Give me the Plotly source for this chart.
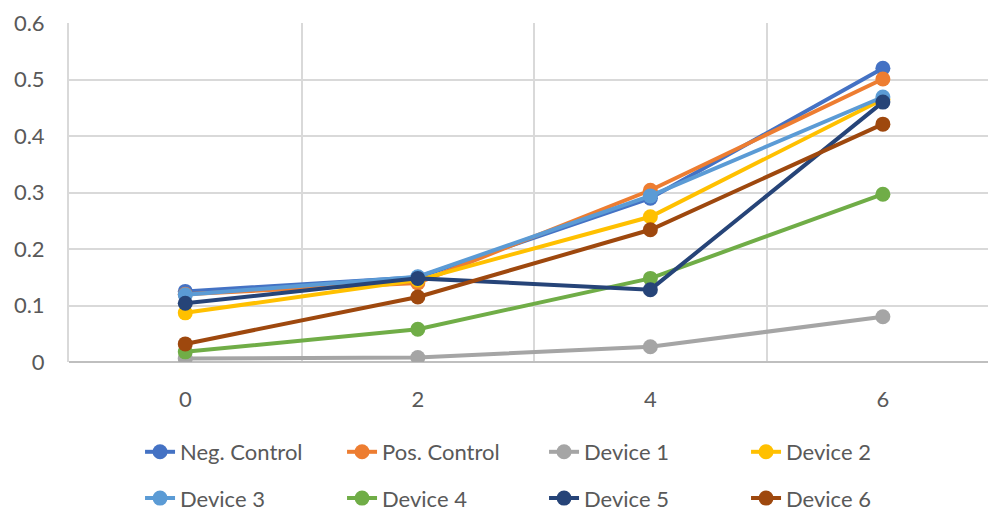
import plotly.graph_objects as go

# Time points (x) and measured values per series
time_points = [0, 2, 4, 6]
series_names = ["Neg. Control", "Pos. Control", "Device 1", "Device 2",
                "Device 3", "Device 4", "Device 5", "Device 6"]
neg_control = [0.125, 0.150, 0.290, 0.520]
pos_control = [0.120, 0.140, 0.304, 0.501]
device_1 = [0.006, 0.008, 0.027, 0.080]
device_2 = [0.087, 0.145, 0.257, 0.465]
device_3 = [0.119, 0.151, 0.294, 0.469]
device_4 = [0.018, 0.058, 0.148, 0.297]
device_5 = [0.104, 0.148, 0.128, 0.460]
device_6 = [0.032, 0.115, 0.234, 0.421]
series_values = [neg_control, pos_control, device_1, device_2,
                 device_3, device_4, device_5, device_6]
series_colors = ["#4472C4", "#ED7D31", "#A5A5A5", "#FFC000",
                 "#5B9BD5", "#70AD47", "#264478", "#9E480E"]
y_ticks = [0, 0.1, 0.2, 0.3, 0.4, 0.5, 0.6]
y_tick_text = ["0", "0.1", "0.2", "0.3", "0.4", "0.5", "0.6"]

FONT = "Lato"
TEXT_COLOR = "#595959"
GRID = "#D9D9D9"

fig = go.Figure()
for i, (name, vals, col) in enumerate(zip(series_names, series_values, series_colors)):
    fig.add_trace(go.Scatter(
        x=time_points, y=vals, name=name, mode="lines+markers",
        line=dict(color=col, width=4),
        marker=dict(color=col, size=15),
        legend="legend" if i < 4 else "legend2",
    ))

legend_common = dict(
    orientation="h", xanchor="left", yanchor="middle",
    font=dict(family=FONT, size=22, color=TEXT_COLOR),
    entrywidth=157, entrywidthmode="pixels",
    bgcolor="rgba(0,0,0,0)",
)

fig.update_layout(
    width=988, height=511,
    margin=dict(l=69, r=0, t=23, b=149, autoexpand=False),
    paper_bgcolor="white", plot_bgcolor="white",
    showlegend=True,
    legend=dict(x=0.0773, y=-0.2655, **legend_common),
    legend2=dict(x=0.0773, y=-0.402, **legend_common),
    xaxis=dict(
        range=[-1, 6.904], tickvals=time_points,
        ticktext=[str(t) for t in time_points],
        showgrid=False, zeroline=False,
        showline=False, ticks="",
        ticklabelstandoff=22,
        tickfont=dict(family=FONT, size=22, color=TEXT_COLOR),
        minor=dict(tickvals=[1, 3, 5], showgrid=True, gridcolor=GRID, gridwidth=2),
    ),
    yaxis=dict(
        range=[0, 0.6], tickvals=y_ticks, ticktext=y_tick_text,
        showgrid=True, gridcolor=GRID, gridwidth=2,
        zeroline=True, zerolinecolor="#BFBFBF", zerolinewidth=2,
        showline=True, linecolor=GRID, linewidth=2,
        ticks="", ticklabelstandoff=18,
        tickfont=dict(family=FONT, size=22, color=TEXT_COLOR),
    ),
)

fig.write_html("out.html")
